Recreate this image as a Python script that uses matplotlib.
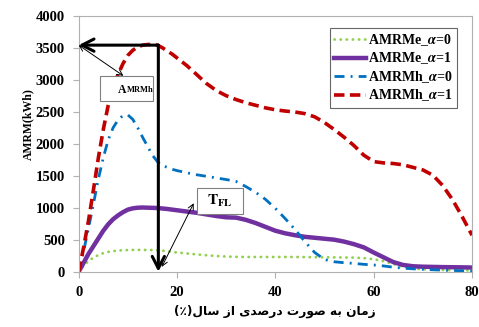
import matplotlib
matplotlib.use("Agg")
import matplotlib.pyplot as plt
from matplotlib.patches import Rectangle

plt.rcParams['font.family'] = ['Liberation Serif', 'DejaVu Sans']
plt.rcParams['font.weight'] = 'bold'
plt.rcParams['mathtext.fontset'] = 'stix'

# time as percent of the year
x = [0, 1, 2, 3, 4, 5, 6, 7, 8, 9, 10, 11, 12, 13, 14, 15, 16, 17, 18, 19,
     20, 22, 24, 26, 28, 30, 32, 34, 36, 38, 40, 42, 44, 46, 48, 50, 52,
     54, 56, 58, 60, 62, 64, 66, 68, 70, 72, 74, 76, 78, 80]

amrme_a0 = [0, 90, 170, 220, 260, 290, 310, 322, 330, 336, 338, 340, 340,
            340, 340, 338, 335, 328, 320, 310, 300, 285, 270, 257, 245, 237,
            232, 230, 230, 230, 230, 230, 230, 228, 227, 225, 224, 222, 220,
            212, 195, 165, 120, 75, 50, 38, 30, 27, 25, 22, 20]
amrme_a1 = [0, 140, 280, 400, 520, 640, 740, 820, 880, 930, 970, 990, 1000,
            1003, 1000, 998, 995, 988, 980, 970, 960, 940, 920, 895, 870,
            850, 845, 810, 760, 700, 640, 600, 570, 545, 530, 515, 500, 470,
            430, 380, 300, 225, 150, 105, 85, 78, 75, 72, 70, 68, 65]
amrmh_a0 = [0, 320, 680, 1060, 1450, 1780, 2060, 2250, 2370, 2440, 2450,
            2380, 2250, 2100, 1960, 1820, 1720, 1660, 1630, 1600, 1580, 1545,
            1515, 1490, 1465, 1440, 1410, 1330, 1240, 1130, 990, 830, 660,
            470, 300, 190, 155, 140, 130, 115, 105, 90, 70, 55, 45, 38, 30,
            25, 20, 15, 10]
amrmh_a1 = [0, 380, 800, 1280, 1780, 2220, 2600, 2880, 3080, 3250, 3380,
            3460, 3510, 3540, 3550, 3550, 3540, 3500, 3450, 3400, 3340, 3220,
            3080, 2940, 2830, 2750, 2690, 2640, 2600, 2560, 2530, 2510, 2495,
            2470, 2420, 2330, 2220, 2100, 1970, 1820, 1720, 1700, 1690, 1670,
            1630, 1590, 1510, 1350, 1130, 860, 570]

labels = [r'AMRMe_$\alpha$=0', r'AMRMe_$\alpha$=1',
          r'AMRMh_$\alpha$=0', r'AMRMh_$\alpha$=1']

t_peak = 16.2
amrmh_peak = 3540

xlabel_fa = 'زمان به صورت درصدی از سال'

# presentation forms: (isolated, final, initial, medial)
FORMS = {
    'ا': ('\ufe8d', '\ufe8e', None, None),
    'ب': ('\ufe8f', '\ufe90', '\ufe91', '\ufe92'),
    'ت': ('\ufe95', '\ufe96', '\ufe97', '\ufe98'),
    'د': ('\ufea9', '\ufeaa', None, None),
    'ر': ('\ufead', '\ufeae', None, None),
    'ز': ('\ufeaf', '\ufeb0', None, None),
    'س': ('\ufeb1', '\ufeb2', '\ufeb3', '\ufeb4'),
    'ص': ('\ufeb9', '\ufeba', '\ufebb', '\ufebc'),
    'ل': ('\ufedd', '\ufede', '\ufedf', '\ufee0'),
    'م': ('\ufee1', '\ufee2', '\ufee3', '\ufee4'),
    'ن': ('\ufee5', '\ufee6', '\ufee7', '\ufee8'),
    'ه': ('\ufee9', '\ufeea', '\ufeeb', '\ufeec'),
    'و': ('\ufeed', '\ufeee', None, None),
    '\u06cc': ('\ufbfc', '\ufbfd', '\ufbfe', '\ufbff'),
    '\u064a': ('\ufbfc', '\ufbfd', '\ufbfe', '\ufbff'),
}


def shape_rtl(s):
    # join letters and flip to visual order
    out = []
    for i, c in enumerate(s):
        if c not in FORMS:
            out.append(c)
            continue
        prev = s[i - 1] if i > 0 else ''
        nxt = s[i + 1] if i + 1 < len(s) else ''
        joins_prev = prev in FORMS and FORMS[prev][2] is not None
        joins_next = nxt in FORMS and FORMS[c][2] is not None
        iso, fin, ini, med = FORMS[c]
        if joins_prev and joins_next:
            out.append(med)
        elif joins_prev:
            out.append(fin)
        elif joins_next:
            out.append(ini)
        else:
            out.append(iso)
    return ''.join(out)[::-1]


fig = plt.figure(figsize=(4.79, 3.27), dpi=100)
ax = fig.add_axes([0.1643, 0.1691, 0.8211, 0.7829])

ax.plot(x, amrme_a0, color='#92d050', lw=2.0, linestyle=(0, (0.1, 2.1)),
        dash_capstyle='round', label=labels[0])
ax.plot(x, amrme_a1, color='#7030a0', lw=3.2, label=labels[1])
ax.plot(x, amrmh_a0, color='#0070c0', lw=2.0,
        linestyle=(0, (3.6, 2.2, 0.7, 2.2)), label=labels[2])
ax.plot(x, amrmh_a1, color='#c00000', lw=2.6, linestyle=(0, (2.9, 1.5)),
        label=labels[3])

ax.set_xlim(0, 80)
ax.set_ylim(0, 4000)
ax.set_xticks([0, 20, 40, 60, 80])
ax.set_yticks([0, 500, 1000, 1500, 2000, 2500, 3000, 3500, 4000])

for s in ax.spines.values():
    s.set_color('#b0b0b0')
    s.set_linewidth(0.8)
ax.tick_params(axis='both', direction='out', length=4, width=0.8,
               color='#b0b0b0', labelsize=10.5, labelcolor='black', pad=6)
for lab in ax.get_xticklabels() + ax.get_yticklabels():
    lab.set_fontweight('bold')

ax.set_ylabel('AMRM(kWh)', fontsize=8.5, fontweight='bold')
ax.yaxis.set_label_coords(-0.112, 0.577)
ax.set_xlabel('(٪)' + shape_rtl(xlabel_fa), fontsize=8.8,
              fontweight='bold', family=['DejaVu Sans'])
ax.xaxis.set_label_coords(0.5, -0.128)

leg = ax.legend(loc='upper right', bbox_to_anchor=(0.962, 0.952),
                fontsize=10, frameon=True, fancybox=False,
                handlelength=2.3, handletextpad=0.1, borderpad=0.3,
                labelspacing=0.2, borderaxespad=0)
leg.get_frame().set_edgecolor('#404040')
leg.get_frame().set_linewidth(0.8)

# thick arrows from the peak to both axes
big = dict(arrowstyle='->,head_length=0.43,head_width=0.22', lw=2.2,
           color='black', shrinkA=0, shrinkB=0, mutation_scale=20)
ax.annotate('', xy=(0, amrmh_peak), xytext=(t_peak, amrmh_peak),
            arrowprops=big, zorder=6)
ax.annotate('', xy=(t_peak, 0), xytext=(t_peak, amrmh_peak),
            arrowprops=big, zorder=6)

thin = dict(arrowstyle='<->,head_length=0.4,head_width=0.2', lw=0.7,
            color='black', shrinkA=0, shrinkB=0, mutation_scale=10)
ax.annotate('', xy=(0, amrmh_peak), xytext=(9.1, 3060),
            arrowprops=thin, zorder=6)
ax.annotate('', xy=(16.9, 75), xytext=(23.4, 1070),
            arrowprops=thin, zorder=6)

# callout boxes
ax.add_patch(Rectangle((4.33, 2667), 10.8, 391, facecolor='white',
                       edgecolor='#808080', lw=0.8, zorder=7))
ax.text(9.75, 2862, 'A', fontsize=8.5, ha='right', va='center_baseline',
        zorder=8)
ax.text(9.75, 2862, 'MRMh', fontsize=6, ha='left', va='center_baseline',
        zorder=8)

ax.add_patch(Rectangle((24.0, 902), 9.4, 406, facecolor='white',
                       edgecolor='#808080', lw=0.8, zorder=7))
ax.text(28.7, 1105, r'$\mathbf{T}_{\mathbf{FL}}$', fontsize=11,
        ha='center', va='center', zorder=8)

fig.savefig('out.png', dpi=100)
